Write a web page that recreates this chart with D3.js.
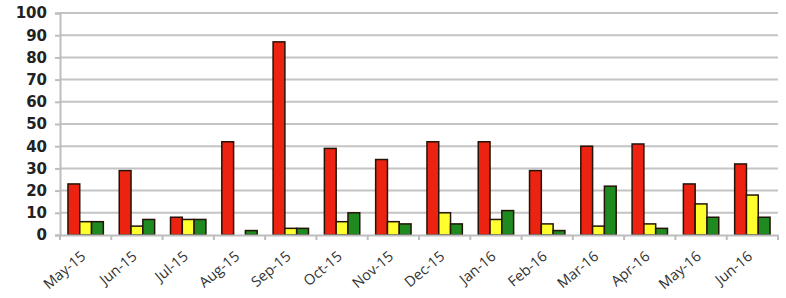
<!DOCTYPE html>
<html>
<head>
<meta charset="utf-8">
<script src="https://cdn.jsdelivr.net/npm/d3@7"></script>
<style>
  body { margin: 0; background: #fff; }
  .grid line { stroke: #c4c4c4; stroke-width: 2; }
  .bar { stroke: #241408; stroke-width: 1.5; }
</style>
</head>
<body>
<svg id="chart" width="786" height="298"></svg>
<script>
// months on the x axis
const months = ['May-15', 'Jun-15', 'Jul-15', 'Aug-15', 'Sep-15', 'Oct-15', 'Nov-15',
                'Dec-15', 'Jan-16', 'Feb-16', 'Mar-16', 'Apr-16', 'May-16', 'Jun-16']
// three series
const redVals    = [23, 29, 8, 42, 87, 39, 34, 42, 42, 29, 40, 41, 23, 32]
const yellowVals = [6, 4, 7, 0, 3, 6, 6, 10, 7, 5, 4, 5, 14, 18]
const greenVals  = [6, 7, 7, 2, 3, 10, 5, 5, 11, 2, 22, 3, 8, 8]
const yTicks = [0, 10, 20, 30, 40, 50, 60, 70, 80, 90, 100]

const series = [
    { key: 'red', values: redVals, color: '#ec2310' },
    { key: 'yellow', values: yellowVals, color: '#ffff2e' },
    { key: 'green', values: greenVals, color: '#1f8a1f' }
]

const margin = { top: 13, right: 8, bottom: 63, left: 60 }
const width = 786 - margin.left - margin.right
const height = 298 - margin.top - margin.bottom

const svg = d3.select('#chart')
const g = svg.append('g').attr('transform', `translate(${margin.left},${margin.top})`)

const x = d3.scaleBand().domain(months).range([0, width]).paddingInner(0.31).paddingOuter(0.155)
const x1 = d3.scaleBand().domain(series.map(s => s.key)).range([0, x.bandwidth()])
const y = d3.scaleLinear().domain([0, 100]).range([height, 0])

// horizontal grid
g.append('g')
    .attr('class', 'grid')
    .selectAll('line')
    .data(yTicks.slice(1))
    .enter()
    .append('line')
        .attr('x1', 0)
        .attr('x2', width)
        .attr('y1', d => y(d))
        .attr('y2', d => y(d))

// y axis
const yAxis = g.append('g')
    .call(d3.axisLeft(y).tickValues(yTicks).tickSize(5).tickPadding(8))
yAxis.select('.domain').attr('stroke', '#bdbdbd').attr('stroke-width', 2)
yAxis.selectAll('.tick line').attr('stroke', '#bdbdbd').attr('stroke-width', 2)
yAxis.selectAll('text')
    .style('font-family', 'DejaVu Sans')
    .style('font-size', '15px')
    .style('font-weight', 'bold')
    .attr('fill', '#222')

// bars
g.append('g')
    .selectAll('g')
    .data(months)
    .enter()
    .append('g')
        .attr('transform', d => `translate(${x(d)},0)`)
        .selectAll('rect')
        .data((d, i) => series.map(s => ({ key: s.key, value: s.values[i], color: s.color })))
        .enter()
        .append('rect')
            .attr('class', 'bar')
            .attr('x', d => x1(d.key))
            .attr('width', x1.bandwidth())
            .attr('y', d => y(d.value))
            .attr('height', d => height - y(d.value))
            .attr('fill', d => d.color)

// x axis, tick marks between the categories
const xAxis = g.append('g')
    .attr('transform', `translate(0,${height})`)
    .call(d3.axisBottom(x).tickSize(0).tickPadding(0))
xAxis.select('.domain').attr('stroke', '#bdbdbd').attr('stroke-width', 2)
xAxis.selectAll('.tick text')
    .style('font-family', 'Open Sans')
    .style('font-size', '14.5px')
    .attr('fill', '#333')
    .attr('text-anchor', 'end')
    .attr('transform', 'translate(1,23) rotate(-40)')
    .attr('dy', 0)
    .attr('y', 0)

const step = x.step()
xAxis.selectAll('.sep')
    .data(d3.range(months.length + 1))
    .enter()
    .append('line')
        .attr('x1', i => i * step)
        .attr('x2', i => i * step)
        .attr('y1', 0)
        .attr('y2', 5)
        .attr('stroke', '#bdbdbd')
        .attr('stroke-width', 2)
</script>
</body>
</html>
